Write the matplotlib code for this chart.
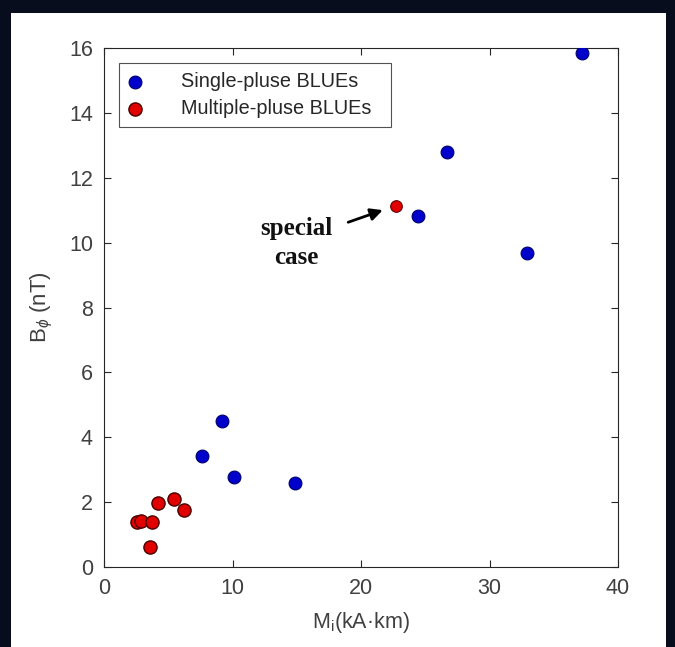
import matplotlib
matplotlib.use("Agg")
import matplotlib.pyplot as plt
from matplotlib.patches import Rectangle

plt.rcParams["font.family"] = ["Liberation Sans", "DejaVu Sans"]
plt.rcParams["mathtext.fontset"] = "custom"
plt.rcParams["mathtext.rm"] = "Liberation Sans"
plt.rcParams["mathtext.it"] = "Liberation Sans:italic"

# ── DATA ──────────────────────────────────────────────────────────────────────
single_x = [37.2, 26.7, 24.4, 32.9, 9.2, 7.6, 10.1, 14.9]
single_y = [15.85, 12.78, 10.83, 9.69, 4.49, 3.43, 2.76, 2.60]

multi_x = [2.6, 2.9, 3.7, 4.2, 5.45, 6.2, 3.6]
multi_y = [1.40, 1.42, 1.40, 1.97, 2.11, 1.76, 0.61]

special_x = [22.7]
special_y = [11.14]

x_ticks = [0, 10, 20, 30, 40]
y_ticks = [0, 2, 4, 6, 8, 10, 12, 14, 16]

# ── FIGURE ────────────────────────────────────────────────────────────────────
fig = plt.figure(figsize=(6.75, 6.47), dpi=100, facecolor="#070d1c")
fig.add_artist(Rectangle((11 / 675, 0), (666 - 11) / 675, (647 - 13) / 647,
                         transform=fig.transFigure, facecolor="white",
                         edgecolor="none", zorder=-10))

ax = fig.add_axes([104 / 675, 80 / 647, 514 / 675, 519 / 647])
ax.set_zorder(5)
ax.set_facecolor("white")

ax.scatter(single_x, single_y, s=85, c="#0000cc", edgecolors="#00006a",
           linewidths=0.8, zorder=3, label="Single-pluse BLUEs")
ax.scatter(multi_x, multi_y, s=90, c="#e00000", edgecolors="#4a0000",
           linewidths=1.0, zorder=3, label="Multiple-pluse BLUEs")
ax.scatter(special_x, special_y, s=70, c="#e00000", edgecolors="#6a0000",
           linewidths=0.8, zorder=3)

ax.set_xlim(0, 40)
ax.set_ylim(0, 16)
ax.set_xticks(x_ticks)
ax.set_yticks(y_ticks)
ax.tick_params(direction="in", length=5, width=0.8, top=True, right=True,
               labelsize=15.5, colors="#262626", labelcolor="#404040", pad=8)
for sp in ax.spines.values():
    sp.set_color("#262626")
    sp.set_linewidth(0.8)

ax.set_xlabel("M$_{\\mathrm{i}}$(kA·km)", fontsize=15.5, color="#404040", labelpad=8)
ax.set_ylabel("B$_{\\phi}$ (nT)", fontsize=16, color="#404040", labelpad=10)

leg = ax.legend(loc="upper left", bbox_to_anchor=(0.029, 0.5, 0.529, 0.471),
                mode="expand", fontsize=14.3,
                frameon=True, fancybox=False, edgecolor="#262626",
                handletextpad=2.0, borderpad=0.45, labelspacing=0.4,
                handlelength=0.7, borderaxespad=0, markerscale=1.0)
leg.get_frame().set_linewidth(0.8)
for t in leg.get_texts():
    t.set_color("#262626")

ax.annotate("", xy=(21.9, 11.03), xytext=(18.8, 10.6),
            arrowprops=dict(arrowstyle="-|>", color="black", lw=2.0,
                            mutation_scale=18), zorder=4)
ax.text(14.95, 9.98, "special\ncase", ha="center", va="center",
        fontsize=18, fontweight="bold", family="Liberation Serif",
        linespacing=1.35, color="#111111")

fig.savefig("out.png", dpi=100, facecolor=fig.get_facecolor())
